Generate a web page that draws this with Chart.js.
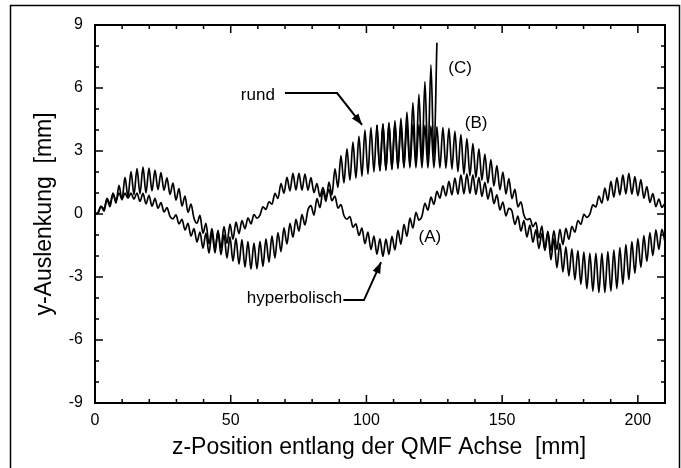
<!DOCTYPE html>
<html>
<head>
<meta charset="utf-8">
<script src="https://cdn.jsdelivr.net/npm/chart.js@4/dist/chart.umd.min.js"></script>
<style>
  html, body { margin: 0; padding: 0; background: #fff; }
  #wrap { width: 681px; height: 468px; }
</style>
</head>
<body>
<div id="wrap"><canvas id="qmf" width="681" height="468"></canvas></div>
<script>
// sample spacing along z (half a micromotion period), mm
const zStep = 1.105;

// (A) hyperbolic rods, y deflection in mm at z = i * zStep
const hyperbolisch = [
  0, 0.07, 0.37, 0.24, 0.74, 0.49, 0.96, 0.64, 1.0, 0.71,
  0.99, 0.75, 0.99, 0.71, 1.0, 0.6, 0.98, 0.48, 0.89, 0.37,
  0.74, 0.27, 0.54, 0.1, 0.3, -0.11, -0.23, -0.04, -0.47, -0.25,
  -0.76, -0.45, -1.05, -0.7, -1.33, -0.86, -1.63, -0.91, -1.87, -0.89,
  -1.85, -0.78, -1.63, -0.6, -1.4, -0.48, -1.2, -0.39, -0.93, -0.31,
  -0.7, -0.18, -0.47, -0.03, -0.2, -0.05, 0.34, 0.22, 0.58, 0.47,
  0.98, 0.74, 1.45, 0.99, 1.74, 1.1, 1.93, 1.14, 1.94, 1.14,
  1.9, 1.14, 1.73, 1.02, 1.45, 0.83, 1.26, 0.78, 1.17, 0.63,
  0.85, 0.28, 0.45, -0.07, -0.24, -0.12, -0.63, -0.47, -1.02, -0.67,
  -1.41, -0.86, -1.69, -1.05, -1.91, -1.18, -2.02, -1.19, -1.92, -1.07,
  -1.71, -0.78, -1.44, -0.49, -1.06, -0.2, -0.67, 0.08, -0.29, -0.11,
  0.51, 0.18, 0.8, 0.46, 1.08, 0.75, 1.34, 0.86, 1.55, 0.91,
  1.71, 0.94, 1.86, 0.96, 1.91, 0.98, 1.87, 0.93, 1.75, 0.84,
  1.51, 0.71, 1.25, 0.49, 0.91, 0.2, 0.57, -0.09, 0.27, 0.14,
  -0.49, -0.1, -0.81, -0.32, -1.09, -0.53, -1.34, -0.76, -1.64, -0.92,
  -1.73, -0.85, -1.74, -0.79, -1.69, -0.73, -1.46, -0.68, -1.21, -0.59,
  -0.87, -0.31, -0.49, -0.02, -0.16, 0.0, 0.43, 0.34, 0.85, 0.52,
  1.23, 0.65, 1.55, 0.8, 1.73, 0.91, 1.86, 0.96, 1.93, 0.94,
  1.78, 0.87, 1.64, 0.75, 1.31, 0.55, 0.97, 0.35, 0.71, 0.32,
  0.5
];

// (B) round rods, stable trajectory
const rundB = [
  0, 0.04, 0.37, 0.13, 0.69, 0.35, 1.0, 0.52, 1.37, 0.67,
  1.74, 0.82, 2.02, 0.92, 2.16, 0.96, 2.23, 1.0, 2.19, 1.1,
  2.09, 1.16, 1.97, 1.13, 1.72, 0.93, 1.47, 0.66, 1.21, 0.38,
  0.85, 0.08, 0.47, -0.2, -0.44, -0.07, -0.92, -0.44, -1.42, -0.69,
  -1.68, -0.85, -1.93, -0.98, -2.1, -1.09, -2.25, -1.16, -2.39, -1.22,
  -2.53, -1.32, -2.63, -1.39, -2.61, -1.3, -2.5, -1.18, -2.3, -1.04,
  -2.1, -0.88, -1.79, -0.66, -1.43, -0.45, -1.1, -0.26, -0.81, -0.03,
  -0.52, 0.2, 0.4, -0.05, 0.73, 0.3, 1.1, 0.6, 1.52, 0.91,
  2.15, 1.27, 2.78, 1.48, 3.1, 1.61, 3.42, 1.71, 3.7, 1.8,
  4.0, 1.9, 4.11, 2.0, 4.23, 2.06, 4.26, 2.08, 4.3, 2.11,
  4.3, 2.16, 4.3, 2.2, 4.29, 2.2, 4.27, 2.2, 4.25, 2.2,
  4.22, 2.2, 4.18, 2.2, 4.15, 2.19, 4.12, 2.18, 4.08, 2.14,
  3.94, 2.02, 3.78, 1.9, 3.59, 1.82, 3.35, 1.73, 3.1, 1.61,
  2.85, 1.47, 2.59, 1.33, 2.31, 1.15, 2.0, 0.96, 1.68, 0.73,
  1.17, 0.34, 0.58, -0.05, -0.27, -0.22, -0.6, -0.4, -1.14, -0.58,
  -1.7, -0.83, -2.18, -1.16, -2.56, -1.4, -2.76, -1.57, -2.95, -1.66,
  -3.13, -1.74, -3.35, -1.82, -3.56, -1.87, -3.68, -1.87, -3.74, -1.87,
  -3.74, -1.79, -3.67, -1.72, -3.55, -1.6, -3.34, -1.46, -3.12, -1.32,
  -2.82, -1.17, -2.54, -1.03, -2.26, -0.89, -1.98, -0.76, -1.68, -0.73,
  -1.3
];

// (C) round rods, unstable branch leaving (B) at sample 94
const rundCStart = 94;
const rundC = [
  4.23, 2.06, 4.3, 2.1, 4.35, 2.15, 4.45, 2.2, 4.55, 2.25,
  4.85, 2.3, 5.3, 2.35, 5.7, 2.45, 6.3, 2.55, 7.1, 2.7,
  8.15
];

const xMajor = [0, 50, 100, 150, 200];
const xMinor = [10, 20, 30, 40, 60, 70, 80, 90, 110, 120, 130, 140, 160, 170, 180, 190];
const yMajor = [-9, -6, -3, 0, 3, 6, 9];
const yMinor = [-8, -7, -5, -4, -2, -1, 1, 2, 4, 5, 7, 8];

const toPoints = (vals, start) => vals.map((v, i) => ({ x: (start + i) * zStep, y: v }));

const FONT = '"Liberation Sans", Arial, sans-serif';

const line = (data) => ({
  data: data,
  borderColor: '#000',
  borderWidth: 1.7,
  pointRadius: 0,
  fill: false,
  cubicInterpolationMode: 'monotone',
});

// frame with inward ticks on all four sides, titles and callouts
const decor = {
  id: 'decor',
  afterDraw(chart) {
    const { ctx, chartArea: a, scales: { x, y } } = chart;
    ctx.save();
    ctx.strokeStyle = '#000';
    ctx.fillStyle = '#000';

    // outer border
    ctx.lineWidth = 1.5;
    ctx.beginPath();
    ctx.moveTo(10.5, 468);
    ctx.lineTo(10.5, 5.5);
    ctx.lineTo(679.5, 5.5);
    ctx.lineTo(679.5, 468);
    ctx.stroke();

    ctx.lineWidth = 2;
    ctx.strokeRect(a.left, a.top, a.right - a.left, a.bottom - a.top);

    ctx.lineWidth = 1.5;
    ctx.beginPath();
    const xt = (v, len) => {
      const px = x.getPixelForValue(v);
      ctx.moveTo(px, a.bottom); ctx.lineTo(px, a.bottom - len);
      ctx.moveTo(px, a.top); ctx.lineTo(px, a.top + len);
    };
    const yt = (v, len) => {
      const py = y.getPixelForValue(v);
      ctx.moveTo(a.left, py); ctx.lineTo(a.left + len, py);
      ctx.moveTo(a.right, py); ctx.lineTo(a.right - len, py);
    };
    xMajor.forEach(v => xt(v, 8));
    xMinor.forEach(v => xt(v, 4));
    yMajor.forEach(v => yt(v, 8));
    yMinor.forEach(v => yt(v, 4));
    ctx.stroke();

    // axis titles
    ctx.font = '23px ' + FONT;
    ctx.textAlign = 'center';
    ctx.textBaseline = 'middle';
    ctx.fillText('z-Position entlang der QMF Achse  [mm]', 379, 448);
    ctx.save();
    ctx.translate(45, (a.top + a.bottom) / 2);
    ctx.rotate(-Math.PI / 2);
    ctx.fillText('y-Auslenkung  [mm]', 0, 0);
    ctx.restore();

    // curve labels
    ctx.font = '17px ' + FONT;
    const P = (vx, vy) => [x.getPixelForValue(vx), y.getPixelForValue(vy)];
    const label = (t, vx, vy) => { const [px, py] = P(vx, vy); ctx.fillText(t, px, py); };
    label('(A)', 123.4, -1.1);
    label('(B)', 140.4, 4.33);
    label('(C)', 134.5, 6.95);
    label('rund', 60, 5.67);
    label('hyperbolisch', 73.5, -4.0);

    // callout arrows
    const arrow = (pts) => {
      const p = pts.map(q => P(q[0], q[1]));
      ctx.lineWidth = 2;
      ctx.beginPath();
      ctx.moveTo(p[0][0], p[0][1]);
      for (let i = 1; i < p.length; i++) ctx.lineTo(p[i][0], p[i][1]);
      ctx.stroke();
      const [tx, ty] = p[p.length - 1];
      const [sx, sy] = p[p.length - 2];
      const ang = Math.atan2(ty - sy, tx - sx);
      ctx.beginPath();
      ctx.moveTo(tx, ty);
      ctx.lineTo(tx - 12 * Math.cos(ang - 0.35), ty - 12 * Math.sin(ang - 0.35));
      ctx.lineTo(tx - 12 * Math.cos(ang + 0.35), ty - 12 * Math.sin(ang + 0.35));
      ctx.closePath();
      ctx.fill();
    };
    arrow([[70, 5.76], [89.2, 5.76], [98.4, 4.24]]);
    arrow([[91.5, -4.1], [99.1, -4.1], [105.4, -2.29]]);

    ctx.restore();
  }
};

new Chart(document.getElementById('qmf'), {
  type: 'line',
  data: {
    datasets: [
      line(toPoints(hyperbolisch, 0)),
      line(toPoints(rundB, 0)),
      line(toPoints(rundC, rundCStart)),
    ],
  },
  options: {
    responsive: false,
    animation: false,
    layout: { padding: { left: 11, top: 25, right: 16, bottom: 0 } },
    plugins: { legend: { display: false }, tooltip: { enabled: false } },
    scales: {
      x: {
        type: 'linear',
        min: 0,
        max: 210,
        afterBuildTicks: (s) => { s.ticks = xMajor.map(v => ({ value: v })); },
        afterFit: (s) => { s.height = 65; },
        grid: { display: false, drawTicks: false },
        border: { display: false },
        ticks: { color: '#000', font: { family: FONT, size: 16 }, padding: 8, maxRotation: 0 },
      },
      y: {
        min: -9,
        max: 9,
        afterBuildTicks: (s) => { s.ticks = yMajor.map(v => ({ value: v })); },
        afterFit: (s) => { s.width = 84; },
        grid: { display: false, drawTicks: false },
        border: { display: false },
        ticks: { color: '#000', font: { family: FONT, size: 16 }, padding: 12 },
      },
    },
  },
  plugins: [decor],
});
</script>
</body>
</html>
